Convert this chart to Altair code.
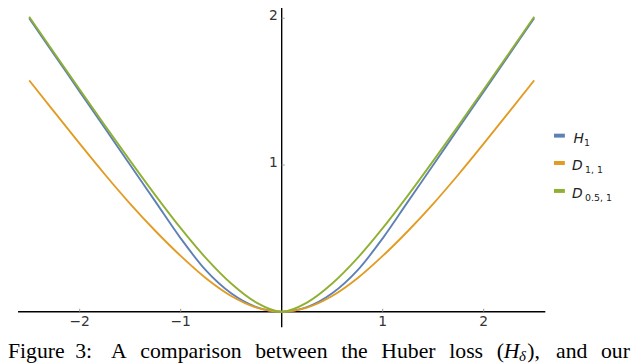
import altair as alt
import pandas as pd

# ---- data ----
x_vals = [-2.5, -2.25, -2.0, -1.75, -1.5, -1.25, -1.0, -0.75, -0.5, -0.25, 0.0,
          0.25, 0.5, 0.75, 1.0, 1.25, 1.5, 1.75, 2.0, 2.25, 2.5]
h1_vals = [2.0, 1.75, 1.5, 1.25, 1.0, 0.75, 0.5, 0.281, 0.125, 0.031, 0.0,
           0.031, 0.125, 0.281, 0.5, 0.75, 1.0, 1.25, 1.5, 1.75, 2.0]
d11_vals = [1.577, 1.36, 1.145, 0.935, 0.735, 0.55, 0.38, 0.228, 0.107, 0.028, 0.0,
            0.028, 0.107, 0.228, 0.38, 0.55, 0.735, 0.935, 1.145, 1.36, 1.577]
d051_vals = [2.01, 1.761, 1.514, 1.269, 1.028, 0.793, 0.569, 0.365, 0.192, 0.062, 0.0,
             0.062, 0.192, 0.365, 0.569, 0.793, 1.028, 1.269, 1.514, 1.761, 2.01]

series_names = ["H1", "D11", "D051"]
series_colors = ["#5E81B5", "#E19C24", "#8FB032"]

x_ticks = [-2, -1, 1, 2]
x_tick_labels = ["\u22122", "\u22121", "1", "2"]
y_ticks = [1, 2]
y_tick_labels = ["1", "2"]

legend_main = ["H", "D", "D"]
legend_sub = ["1", "1, 1", "0.5, 1"]

caption_words = ["Figure", "3:", "A", "comparison", "between", "the", "Huber", "loss", "("]
caption_tail = ["),", "and", "our"]

# ---- scales ----
xs = alt.Scale(domain=[-2.5, 2.5], range=[21.45, 532.95], nice=False, zero=False)
ys = alt.Scale(domain=[0, 2], range=[305.3, 8.1], nice=False, zero=False)

layers = []

# axes lines
axis_df = pd.DataFrame({"x": [-2.61], "x2": [2.61], "y": [0.0]})
layers.append(alt.Chart(axis_df).mark_rule(color="black", strokeWidth=1.4).encode(
    x=alt.X("x:Q", scale=xs, axis=None), x2="x2:Q", y=alt.Y("y:Q", scale=ys, axis=None)))
yaxis_df = pd.DataFrame({"x": [0.0], "y": [-0.106], "y2": [2.2]})
layers.append(alt.Chart(yaxis_df).mark_rule(color="black", strokeWidth=1.4).encode(
    x=alt.X("x:Q", scale=xs, axis=None), y=alt.Y("y:Q", scale=ys, axis=None), y2="y2:Q"))

# ticks
xt_df = pd.DataFrame({"v": x_ticks, "lab": x_tick_labels, "y0": [0.0] * 4, "y1": [0.02] * 4})
layers.append(alt.Chart(xt_df).mark_rule(color="#999999", strokeWidth=1).encode(
    x=alt.X("v:Q", scale=xs, axis=None), y=alt.Y("y0:Q", scale=ys, axis=None), y2="y1:Q"))
layers.append(alt.Chart(xt_df).mark_text(font="DejaVu Sans", fontSize=14, color="#333333",
                                          baseline="top", align="center", dy=4).encode(
    x=alt.X("v:Q", scale=xs, axis=None), y=alt.Y("y0:Q", scale=ys, axis=None), text="lab:N"))
yt_df = pd.DataFrame({"v": y_ticks, "lab": y_tick_labels, "x0": [0.0] * 2, "x1": [0.03] * 2})
layers.append(alt.Chart(yt_df).mark_rule(color="#999999", strokeWidth=1).encode(
    y=alt.Y("v:Q", scale=ys, axis=None), x=alt.X("x0:Q", scale=xs, axis=None), x2="x1:Q"))
layers.append(alt.Chart(yt_df).mark_text(font="DejaVu Sans", fontSize=14, color="#333333",
                                          baseline="alphabetic", align="right", dx=-4, dy=2).encode(
    y=alt.Y("v:Q", scale=ys, axis=None), x=alt.X("x0:Q", scale=xs, axis=None), text="lab:N"))

# curves (drawn in order: H1, D11, D051)
for name, vals, col in zip(series_names, [h1_vals, d11_vals, d051_vals], series_colors):
    df = pd.DataFrame({"x": x_vals, "y": vals})
    layers.append(alt.Chart(df).mark_line(color=col, strokeWidth=1.9, interpolate="monotone").encode(
        x=alt.X("x:Q", scale=xs, axis=None), y=alt.Y("y:Q", scale=ys, axis=None)))

# legend (drawn by hand)
one = pd.DataFrame({"a": [0]})
sw_y = [127, 154.7, 183]
main_x = [572.7, 571.3, 571.3]
sub_x = [583.5, 584.5, 584.5]
for i in range(3):
    layers.append(alt.Chart(one).mark_rule(color=series_colors[i], strokeWidth=4).encode(
        x=alt.value(553), x2=alt.value(564), y=alt.value(sw_y[i])))
    layers.append(alt.Chart(one).mark_text(font="DejaVu Sans", fontSize=14, fontStyle="italic",
                                           color="#222222", align="left", baseline="alphabetic").encode(
        x=alt.value(main_x[i]), y=alt.value(sw_y[i] + 7), text=alt.value(legend_main[i])))
    layers.append(alt.Chart(one).mark_text(font="DejaVu Sans", fontSize=9.5,
                                           color="#222222", align="left", baseline="alphabetic").encode(
        x=alt.value(sub_x[i]), y=alt.value(sw_y[i] + 10.5), text=alt.value(legend_sub[i])))

# caption (justified line, cut at bottom as in the reference)
cap_x = [0, 68, 104.3, 134, 250.4, 337.5, 378.1, 446.9, 494.9]
for w, xx in zip(caption_words, cap_x):
    layers.append(alt.Chart(one).mark_text(font="Liberation Serif", fontSize=22, color="black",
                                           align="left", baseline="alphabetic").encode(
        x=alt.value(xx), y=alt.value(352), text=alt.value(w)))
layers.append(alt.Chart(one).mark_text(font="Liberation Serif", fontSize=22, fontStyle="italic",
                                       color="black", align="left", baseline="alphabetic").encode(
    x=alt.value(502.2), y=alt.value(352), text=alt.value("H")))
layers.append(alt.Chart(one).mark_text(font="Liberation Serif", fontSize=15, fontStyle="italic",
                                       color="black", align="left", baseline="alphabetic").encode(
    x=alt.value(517.5), y=alt.value(355), text=alt.value("\u03b4")))
for w, xx in zip(caption_tail, [526, 555.1, 600.6]):
    layers.append(alt.Chart(one).mark_text(font="Liberation Serif", fontSize=22, color="black",
                                           align="left", baseline="alphabetic").encode(
        x=alt.value(xx), y=alt.value(352), text=alt.value(w)))

chart = alt.layer(*layers).properties(
    width=632, height=356, autosize=alt.AutoSizeParams(type="none"), padding=0
).configure_view(stroke=None)

chart.save("out.html", embed_options={"renderer": "svg", "actions": False})
